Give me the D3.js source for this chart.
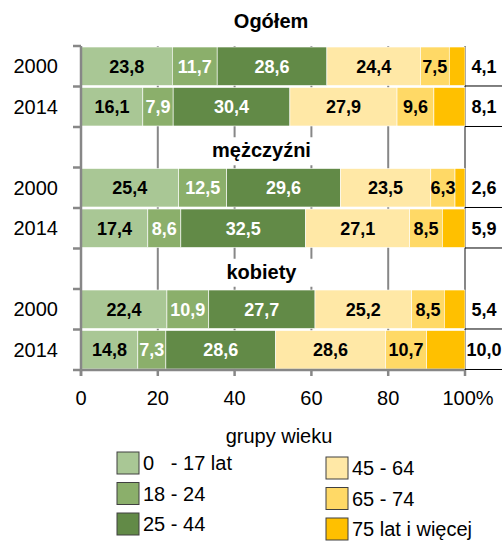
<!DOCTYPE html>
<html>
<head>
<meta charset="utf-8">
<script src="https://cdn.jsdelivr.net/npm/d3@7"></script>
<style>
  html, body { margin: 0; padding: 0; background: #fff; }
  svg, svg text { font-family: Arial, "Liberation Sans", Helvetica, sans-serif; }
</style>
</head>
<body>
<svg id="chart" width="502" height="545"></svg>
<script>
// ---- data ----
const groups = ["Ogółem", "mężczyźni", "kobiety"];
const years = ["2000", "2014"];
const ageGroups = ["0   - 17 lat", "18 - 24", "25 - 44", "45 - 64", "65 - 74", "75 lat i więcej"];
// values per row: Ogółem 2000, Ogółem 2014, mężczyźni 2000, mężczyźni 2014, kobiety 2000, kobiety 2014
const age0_17  = [23.8, 16.1, 25.4, 17.4, 22.4, 14.8];
const age18_24 = [11.7, 7.9, 12.5, 8.6, 10.9, 7.3];
const age25_44 = [28.6, 30.4, 29.6, 32.5, 27.7, 28.6];
const age45_64 = [24.4, 27.9, 23.5, 27.1, 25.2, 28.6];
const age65_74 = [7.5, 9.6, 6.3, 8.5, 8.5, 10.7];
const age75p   = [4.1, 8.1, 2.6, 5.9, 5.4, 10.0];
const xTickValues = [0, 20, 40, 60, 80, 100];
const xTickLabels = ["0", "20", "40", "60", "80", "100%"];
const legendTitle = "grupy wieku";

const colors = ["#a9c795", "#8baf6b", "#628a47", "#ffe8a6", "#ffd966", "#ffc000"];
const labelColors = ["#000", "#fff", "#fff", "#000", "#000", null];

const series = [age0_17, age18_24, age25_44, age45_64, age65_74, age75p];
const FONT = "Arial, 'Liberation Sans', Helvetica, sans-serif";

const rows = [];
groups.forEach((g, gi) => years.forEach((y, yi) => {
  const i = gi * 2 + yi;
  const r = { key: g + "|" + y, group: g, year: y };
  ageGroups.forEach((a, ai) => r[a] = series[ai][i]);
  rows.push(r);
}));
const bandDomain = [];
groups.forEach((g, gi) => {
  if (gi > 0) bandDomain.push("title|" + g);
  years.forEach(y => bandDomain.push(g + "|" + y));
});

const svg = d3.select("#chart").attr("font-family", FONT);
const W = 502, H = 545;
const plotL = 81, plotR = 465, plotT = 46, plotB = 370;

const x = d3.scaleLinear().domain([0, 100]).range([plotL, plotR]);
const y = d3.scaleBand().domain(bandDomain).range([plotT, plotB]).paddingInner(0.05).paddingOuter(0.025);
const bandStep = (plotB - plotT) / bandDomain.length;

const stacked = d3.stack().keys(ageGroups).offset(d3.stackOffsetExpand)(rows);

const grey = "#878787";

// gridlines
svg.append("g").selectAll("line").data(xTickValues.slice(1)).join("line")
  .attr("x1", d => x(d)).attr("x2", d => x(d))
  .attr("y1", plotT).attr("y2", plotB)
  .attr("stroke", grey).attr("stroke-width", 2);

// group titles
groups.forEach((g, gi) => {
  let cy, cx;
  if (gi === 0) {
    cy = plotT - bandStep / 2;
    cx = x(49.5);
  } else {
    const yy = y("title|" + g) - y.step() * y.paddingInner() / 2;
    cy = yy + bandStep / 2;
    cx = x(47);
    svg.append("rect")
      .attr("x", x(31.5)).attr("y", cy - 10)
      .attr("width", x(60.9) - x(31.5)).attr("height", 28)
      .attr("fill", "#fff");
  }
  svg.append("text")
    .attr("font-family", FONT)
    .attr("x", cx).attr("y", cy + (gi === 0 ? 2 : 10))
    .attr("text-anchor", "middle")
    .attr("font-size", 20).attr("font-weight", "bold")
    .attr("fill", "#000")
    .text(g);
});

// bars
const layers = svg.append("g").selectAll("g").data(stacked).join("g")
  .attr("fill", (d, i) => colors[i]);
layers.selectAll("rect").data(d => d).join("rect")
  .attr("x", d => x(d[0] * 100))
  .attr("width", d => x(d[1] * 100) - x(d[0] * 100))
  .attr("y", d => y(d.data.key))
  .attr("height", y.bandwidth())
  .attr("stroke", "#fff").attr("stroke-width", 0.6);

// in-bar labels
const fmt = v => v.toFixed(1).replace(".", ",");
stacked.forEach((layer, li) => {
  if (!labelColors[li]) return;
  svg.append("g").selectAll("text").data(layer).join("text")
    .attr("font-family", FONT)
    .attr("x", d => (x(d[0] * 100) + x(d[1] * 100)) / 2)
    .attr("y", d => y(d.data.key) + y.bandwidth() / 2)
    .attr("dy", "0.36em")
    .attr("text-anchor", "middle")
    .attr("font-size", 18).attr("font-weight", "bold")
    .attr("fill", labelColors[li])
    .text(d => fmt(d.data[ageGroups[li]]));
});

// outside labels for 75+ with underline
const last = ageGroups[ageGroups.length - 1];
svg.append("g").selectAll("text").data(rows).join("text")
  .attr("font-family", FONT)
  .attr("x", x(100) + 19)
  .attr("y", d => y(d.key) + y.bandwidth() / 2)
  .attr("dy", "0.36em")
  .attr("text-anchor", "middle")
  .attr("font-size", 18).attr("font-weight", "bold")
  .attr("fill", "#000")
  .text(d => fmt(d[last]));
svg.append("g").selectAll("line").data(rows).join("line")
  .attr("x1", x(100)).attr("x2", W)
  .attr("y1", d => y(d.key) + y.bandwidth() + 0.5)
  .attr("y2", d => y(d.key) + y.bandwidth() + 0.5)
  .attr("stroke", "#000").attr("stroke-width", 1);

// y axis
svg.append("line").attr("x1", plotL).attr("x2", plotL).attr("y1", plotT).attr("y2", plotB + 6)
  .attr("stroke", grey).attr("stroke-width", 2.5);
const boundaries = d3.range(bandDomain.length + 1).map(i => plotT + i * bandStep);
svg.append("g").selectAll("line").data(boundaries).join("line")
  .attr("x1", plotL - 8).attr("x2", plotL)
  .attr("y1", d => d).attr("y2", d => d)
  .attr("stroke", grey).attr("stroke-width", 2.5);

// year labels
svg.append("g").selectAll("text").data(rows).join("text")
  .attr("font-family", FONT)
  .attr("x", 58)
  .attr("y", d => y(d.key) + y.bandwidth() / 2)
  .attr("dy", "0.36em")
  .attr("text-anchor", "end")
  .attr("font-size", 20)
  .attr("fill", "#000")
  .text(d => d.year);

// x axis
svg.append("line").attr("x1", plotL).attr("x2", plotR).attr("y1", plotB).attr("y2", plotB)
  .attr("stroke", grey).attr("stroke-width", 2.5);
svg.append("g").selectAll("line").data(xTickValues).join("line")
  .attr("x1", d => x(d)).attr("x2", d => x(d))
  .attr("y1", plotB).attr("y2", plotB + 6)
  .attr("stroke", grey).attr("stroke-width", 2.5);
svg.append("g").selectAll("text").data(xTickValues).join("text")
  .attr("font-family", FONT)
  .attr("x", (d, i) => x(d) + (i === xTickValues.length - 1 ? 3 : 0))
  .attr("y", plotB + 35)
  .attr("text-anchor", "middle")
  .attr("font-size", 20)
  .attr("fill", "#000")
  .text((d, i) => xTickLabels[i]);

// legend
svg.append("text").attr("font-family", FONT).attr("x", 279).attr("y", 443)
  .attr("text-anchor", "middle").attr("font-size", 20).attr("fill", "#000")
  .text(legendTitle);
const leg = svg.append("g").selectAll("g").data(ageGroups).join("g")
  .attr("transform", (d, i) => {
    const col = Math.floor(i / 3), row = i % 3;
    const lx = col === 0 ? 117 : 326;
    const ly = (col === 0 ? 452 : 457) + row * 30.5;
    return `translate(${lx},${ly})`;
  });
leg.append("rect").attr("width", 22).attr("height", 22)
  .attr("fill", (d, i) => colors[i])
  .attr("stroke", "#404040").attr("stroke-width", 1);
leg.append("text").attr("font-family", FONT).attr("x", 26).attr("y", 11).attr("dy", "0.36em")
  .attr("font-size", 20).attr("fill", "#000")
  .attr("xml:space", "preserve")
  .style("white-space", "pre")
  .text(d => d);
</script>
</body>
</html>
